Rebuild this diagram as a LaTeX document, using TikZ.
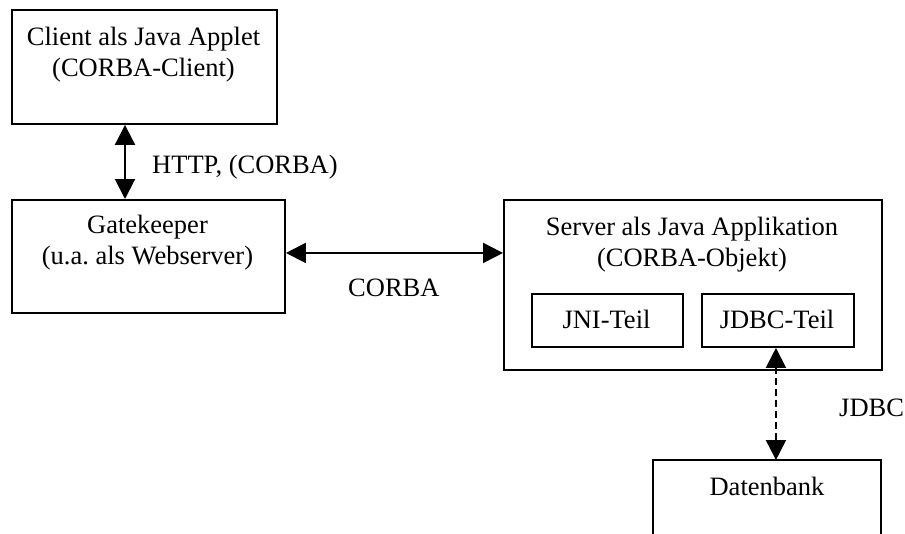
\documentclass[tikz,border=0pt]{standalone}
\usepackage{fontspec}
\setmainfont{Liberation Serif}
\frenchspacing
\usetikzlibrary{arrows.meta}
\tikzset{
  box/.style={draw, line width=1.9pt, anchor=north west, inner sep=0pt},
  txt/.style={anchor=base, inner sep=0pt, font=\fontsize{26.5}{31}\selectfont},
  txtl/.style={anchor=base west, inner sep=0pt, font=\fontsize{26.5}{31}\selectfont},
  link/.style={line width=2pt, {Triangle[length=20pt,width=20pt]}-{Triangle[length=20pt,width=20pt]}},
  dblink/.style={link, dash pattern=on 7pt off 4pt},
}
\begin{document}
\begin{tikzpicture}[x=1pt,y=-1pt]
\useasboundingbox (0,0) rectangle (905,533);

% client
\node[box, minimum width=265pt, minimum height=114pt] (client) at (11,9) {};
\node[txt] (clientA) at (143.5,45) {Client als Java Applet};
\node[txt] (clientB) at (143.5,76) {(CORBA-Client)};

% gatekeeper
\node[box, minimum width=273pt, minimum height=113pt] (gate) at (11,199) {};
\node[txt] (gateA) at (147.5,233) {Gatekeeper};
\node[txt] (gateB) at (147.5,264) {(u.a. als Webserver)};

% server with its two parts
\node[box, minimum width=378pt, minimum height=170pt] (server) at (503,199) {};
\node[txt] (serverA) at (692,235) {Server als Java Applikation};
\node[txt] (serverB) at (692,266) {(CORBA-Objekt)};
\node[box, minimum width=151pt, minimum height=53pt] (jni) at (531,293) {};
\node[txt] (jniT) at (606.5,328) {JNI-Teil};
\node[box, minimum width=152pt, minimum height=53pt] (jdbc) at (701,293) {};
\node[txt] (jdbcT) at (777,328) {JDBC-Teil};

% database, open at the lower edge
\node[inner sep=0pt, anchor=north west, minimum width=228pt, minimum height=90pt] (db) at (653,460) {};
\draw[line width=1.9pt] (db.south west) -- (db.north west) -- (db.north east) -- (db.south east);
\node[txt] (dbT) at (767,495) {Datenbank};

% connectors
\draw[link] ([xshift=114pt]client.south west) -- ([xshift=114pt]gate.north west);
\node[txtl] (http) at (152,173) {HTTP, (CORBA)};

\draw[link] ([yshift=3.5pt]gate.east) coordinate (h) -- (h -| server.west);
\node[txtl] (corba) at (348,296) {CORBA};

\draw[dblink] ([xshift=-2pt]jdbc.south) coordinate (v) -- (v |- db.north);
\node[txtl] (jdbcL) at (839,416) {JDBC};
\end{tikzpicture}
\end{document}
